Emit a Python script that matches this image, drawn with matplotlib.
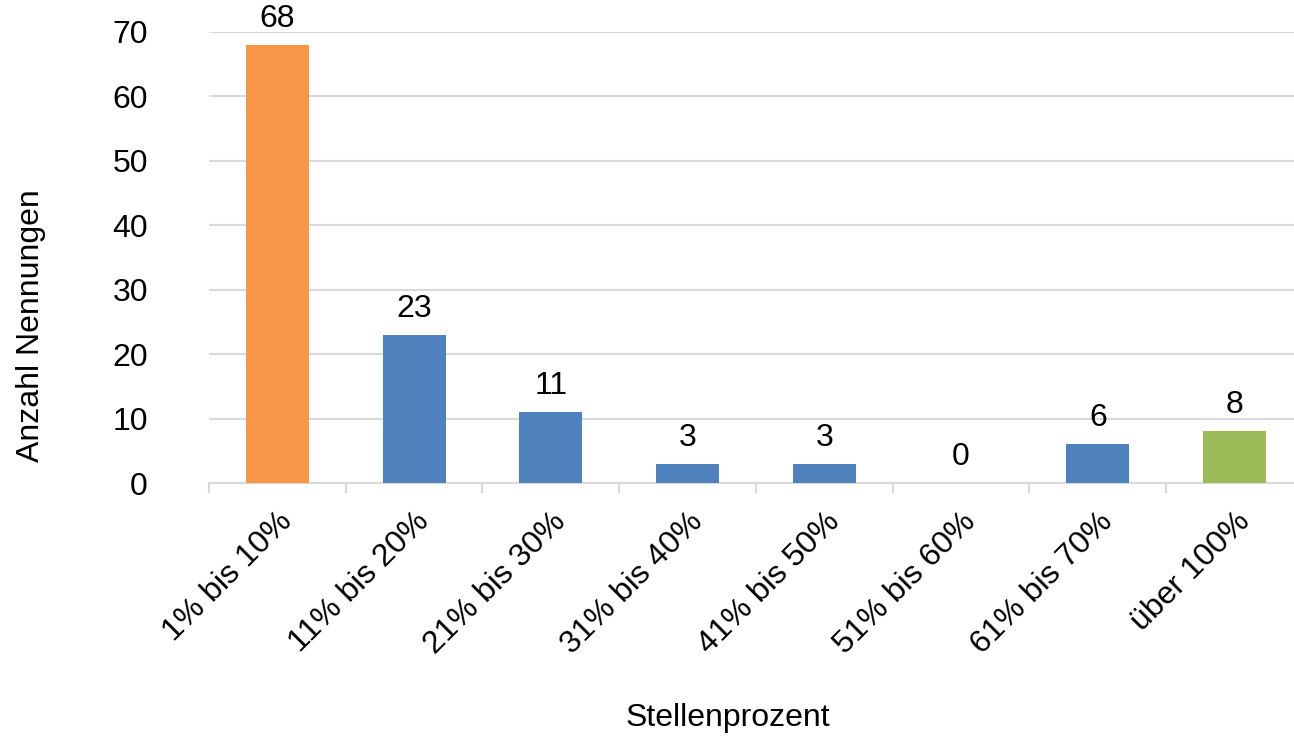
import matplotlib.pyplot as plt
import numpy as np

plt.rcParams["font.family"] = ["Liberation Sans", "DejaVu Sans"]

categories = ["1% bis 10%", "11% bis 20%", "21% bis 30%", "31% bis 40%",
              "41% bis 50%", "51% bis 60%", "61% bis 70%", "über 100%"]
counts = [68, 23, 11, 3, 3, 0, 6, 8]
bar_colors = ["#F79646", "#4F81BD", "#4F81BD", "#4F81BD",
              "#4F81BD", "#4F81BD", "#4F81BD", "#9BBB59"]

fs = 23

fig = plt.figure(figsize=(12.94, 7.37), dpi=100)
ax = fig.add_axes([0.1615, 0.3446, 0.8454, 0.612])

x = np.arange(len(categories))
bars = ax.bar(x, counts, width=0.46, color=bar_colors, zorder=3)

for b, v in zip(bars, counts):
    ax.annotate(str(v), (b.get_x() + b.get_width() / 2, v),
                xytext=(0, 8), textcoords="offset points",
                ha="center", va="bottom", fontsize=fs)

ax.set_xlim(-0.5, len(categories) - 0.5)
ax.set_ylim(0, 70)
ax.set_yticks(range(0, 71, 10))
ax.yaxis.grid(True, color="#D9D9D9", linewidth=1.5, zorder=0)
ax.tick_params(axis="y", length=0, labelsize=fs, pad=44)

ax.set_xticks(x)
ax.set_xticklabels(categories, rotation=45, ha="right",
                   rotation_mode="anchor", fontsize=fs)
ax.tick_params(axis="x", which="major", length=0, pad=17)
ax.set_xticks(np.arange(-0.5, len(categories), 1), minor=True)
ax.tick_params(axis="x", which="minor", length=7, width=1.5,
               color="#D9D9D9")

for s in ["top", "right", "left"]:
    ax.spines[s].set_visible(False)
ax.spines["bottom"].set_color("#D9D9D9")
ax.spines["bottom"].set_linewidth(1.5)

fig.text(0.024, 0.558, "Anzahl Nennungen", rotation=90,
         ha="center", va="center", fontsize=fs)
fig.text(0.5626, 0.026, "Stellenprozent", ha="center", va="center",
         fontsize=fs)

fig.savefig("out.png", dpi=100)
